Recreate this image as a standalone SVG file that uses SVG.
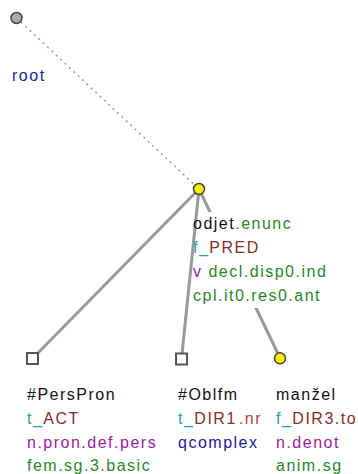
<svg xmlns="http://www.w3.org/2000/svg" width="358" height="474" viewBox="0 0 358 474">
<style>
text{font-family:"Liberation Sans",Arial,sans-serif;font-size:16px;letter-spacing:1.5px}
.k{fill:#111}.g{fill:#1f8a1f}.t{fill:#1aa3a3}.b{fill:#8b2e1e}.p{fill:#a020a0}.d{fill:#1c1c9c}.o{fill:#b5452e}
.e{stroke:#9a9a9a;stroke-width:3;fill:none;stroke-linecap:round}
.dot{stroke:#9a9a9a;stroke-width:1.5;stroke-dasharray:2 4;fill:none}
.y{fill:#ffee00;stroke:#444;stroke-width:1.5}
.sq{fill:#fff;stroke:#555;stroke-width:2}
</style>
<rect width="358" height="474" fill="#fff"/>
<g id="connectors">
<line class="dot" x1="16.5" y1="18" x2="199" y2="189"/>
<line class="e" x1="199" y1="189" x2="32.5" y2="358.5"/>
<line class="e" x1="199" y1="189" x2="181.5" y2="359"/>
<line class="e" x1="199" y1="189" x2="280" y2="358"/>
</g>
<g id="root">
<circle cx="16.5" cy="18" r="5.5" fill="#aaa" stroke="#444" stroke-width="1.5"/>
<text x="12" y="81" class="d">root</text>
</g>
<g id="odjet">
<rect x="198" y="212" width="110" height="96" fill="#fff"/>
<circle class="y" cx="199" cy="189" r="5.5"/>
<text x="193" y="229"><tspan class="k">odjet</tspan><tspan class="g">.enunc</tspan></text>
<text x="193" y="253"><tspan class="t">f_</tspan><tspan class="b">PRED</tspan></text>
<text x="193" y="277"><tspan class="p">v</tspan><tspan class="g"> decl.disp0.ind</tspan></text>
<text x="193" y="301" class="g">cpl.it0.res0.ant</text>
</g>
<g id="perspron">
<rect class="sq" x="27" y="353" width="11" height="11"/>
<text x="27" y="400" class="k">#PersPron</text>
<text x="27" y="424"><tspan class="t">t_</tspan><tspan class="b">ACT</tspan></text>
<text x="27" y="448" class="p">n.pron.def.pers</text>
<text x="27" y="471" class="g">fem.sg.3.basic</text>
</g>
<g id="oblfm">
<rect class="sq" x="176" y="353.5" width="11" height="11"/>
<text x="178" y="400" class="k">#Oblfm</text>
<text x="178" y="424"><tspan class="t">t_</tspan><tspan class="b">DIR1</tspan><tspan class="o" dx="2">.nr</tspan></text>
<text x="178" y="448" class="d">qcomplex</text>
</g>
<g id="manzel">
<circle class="y" cx="280" cy="358.3" r="5.5"/>
<text x="276" y="400" class="k">manžel</text>
<text x="276" y="424"><tspan class="t">f_</tspan><tspan class="b">DIR3.to</tspan></text>
<text x="276" y="448" class="p">n.denot</text>
<text x="276" y="471" class="g">anim.sg</text>
</g>
</svg>
